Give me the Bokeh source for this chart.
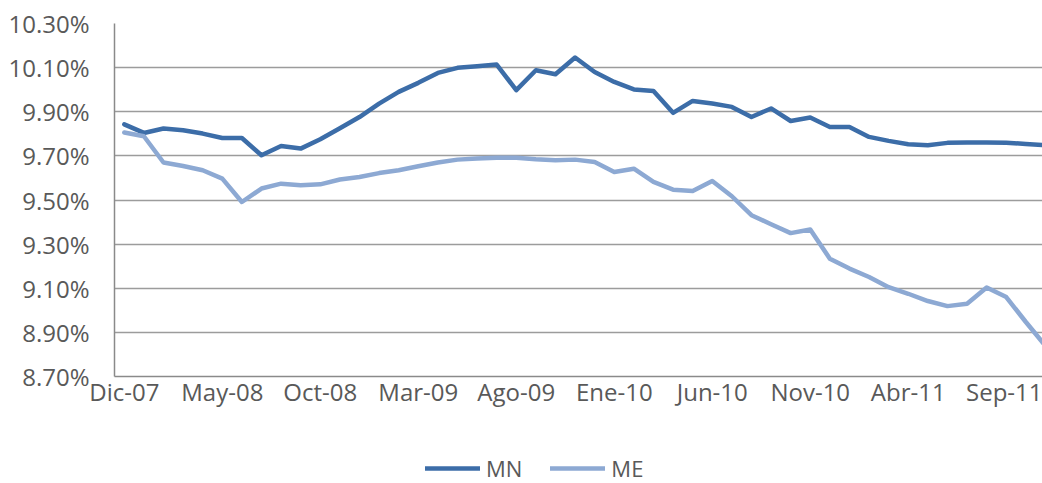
from bokeh.plotting import figure
from bokeh.layouts import column
from bokeh.models import FixedTicker, PrintfTickFormatter, Legend, LegendItem
from bokeh.embed import file_html
from bokeh.resources import INLINE

months = ["Dic-07", "Ene-08", "Feb-08", "Mar-08", "Abr-08", "May-08", "Jun-08", "Jul-08",
          "Ago-08", "Sep-08", "Oct-08", "Nov-08", "Dic-08", "Ene-09", "Feb-09", "Mar-09",
          "Abr-09", "May-09", "Jun-09", "Jul-09", "Ago-09", "Sep-09", "Oct-09", "Nov-09",
          "Dic-09", "Ene-10", "Feb-10", "Mar-10", "Abr-10", "May-10", "Jun-10", "Jul-10",
          "Ago-10", "Sep-10", "Oct-10", "Nov-10", "Dic-10", "Ene-11", "Feb-11", "Mar-11",
          "Abr-11", "May-11", "Jun-11", "Jul-11", "Ago-11", "Sep-11", "Oct-11", "Nov-11"]

mn = [9.843, 9.804, 9.824, 9.816, 9.801, 9.781, 9.781, 9.703, 9.745, 9.733,
      9.775, 9.825, 9.876, 9.937, 9.990, 10.031, 10.076, 10.099, 10.106, 10.114,
      9.998, 10.088, 10.070, 10.146, 10.080, 10.035, 10.001, 9.994, 9.895, 9.949,
      9.937, 9.922, 9.876, 9.915, 9.858, 9.874, 9.831, 9.831, 9.786, 9.768,
      9.753, 9.748, 9.759, 9.761, 9.761, 9.760, 9.754, 9.748]

me = [9.806, 9.789, 9.670, 9.654, 9.635, 9.597, 9.491, 9.552, 9.574, 9.567,
      9.571, 9.593, 9.604, 9.622, 9.635, 9.653, 9.670, 9.683, 9.688, 9.692,
      9.692, 9.685, 9.680, 9.683, 9.672, 9.627, 9.642, 9.582, 9.547, 9.541,
      9.586, 9.517, 9.431, 9.390, 9.350, 9.366, 9.234, 9.189, 9.151, 9.105,
      9.075, 9.042, 9.019, 9.030, 9.103, 9.060, 8.947, 8.839]

series_names = ["MN", "ME"]
y_ticks = [8.70, 8.90, 9.10, 9.30, 9.50, 9.70, 9.90, 10.10, 10.30]
x_tick_idx = list(range(0, len(months), 5))

FONT = "Open Sans"
TXT = "#595959"
C_MN = "#3C6DA8"
C_ME = "#8DA9D3"

x = list(range(len(months)))

p = figure(width=1042, height=420, x_range=(-0.5, 46.85), y_range=(8.70, 10.30),
           output_backend="svg", toolbar_location=None,
           min_border_left=114, min_border_right=0, min_border_top=23, min_border_bottom=44)
p.outline_line_color = None
p.background_fill_color = "white"
p.border_fill_color = "white"

p.line(x, mn, line_color=C_MN, line_width=4.5, line_join="round", line_cap="round")
p.line(x, me, line_color=C_ME, line_width=4.5, line_join="round", line_cap="round")

p.xgrid.grid_line_color = None
p.ygrid.grid_line_color = "#9c9c9c"
p.ygrid.grid_line_width = 1.5
p.ygrid.ticker = FixedTicker(ticks=y_ticks)

p.yaxis.ticker = FixedTicker(ticks=y_ticks)
p.yaxis.formatter = PrintfTickFormatter(format="%.2f%%")
p.yaxis.major_label_text_font = FONT
p.yaxis.major_label_text_font_size = "24px"
p.yaxis.major_label_text_color = TXT
p.yaxis.major_label_standoff = 25
p.yaxis.major_tick_out = 0
p.yaxis.major_tick_in = 0
p.yaxis.minor_tick_out = 0
p.yaxis.minor_tick_in = 0
p.yaxis.major_tick_line_color = None
p.yaxis.minor_tick_line_color = None
p.yaxis.axis_line_color = "#8a8a8a"
p.yaxis.axis_line_width = 1.5

p.xaxis.ticker = FixedTicker(ticks=x_tick_idx)
p.xaxis.major_label_overrides = {i: months[i] for i in x_tick_idx}
p.xaxis.major_label_text_font = FONT
p.xaxis.major_label_text_font_size = "24px"
p.xaxis.major_label_text_color = TXT
p.xaxis.major_label_standoff = -2
p.xaxis.major_tick_out = 0
p.xaxis.major_tick_in = 0
p.xaxis.minor_tick_out = 0
p.xaxis.minor_tick_in = 0
p.xaxis.major_tick_line_color = None
p.xaxis.minor_tick_line_color = None
p.xaxis.axis_line_color = "#8a8a8a"
p.xaxis.axis_line_width = 1.5

# legend strip below the chart (its frame is aligned with the chart's frame)
pl = figure(width=1042, height=63, x_range=(0, 1), y_range=(0, 1),
            output_backend="svg", toolbar_location=None,
            x_axis_type=None, y_axis_type=None,
            min_border_left=0, min_border_right=0, min_border_top=0, min_border_bottom=0)
pl.outline_line_color = None
pl.xgrid.grid_line_color = None
pl.ygrid.grid_line_color = None
pl.background_fill_color = "white"
pl.border_fill_color = "white"
# proxy renderers for the legend keys (outside the strip's visible range)
d_mn = pl.line([-3, -2], [-3, -3], line_color=C_MN, line_width=4.5, line_cap="round")
d_me = pl.line([-3, -2], [-3, -3], line_color=C_ME, line_width=4.5, line_cap="round")

legend = Legend(items=[LegendItem(label=series_names[0], renderers=[d_mn]),
                       LegendItem(label=series_names[1], renderers=[d_me])],
                orientation="horizontal", location=(311, 0),
                margin=0, padding=0, spacing=28, label_standoff=6,
                glyph_width=55, glyph_height=20, label_height=20,
                label_text_font=FONT, label_text_font_size="22px",
                label_text_color=TXT, border_line_color=None,
                background_fill_alpha=0)
pl.add_layout(legend, "center")

layout = column(p, pl, spacing=0)
open("out.html", "w").write(file_html(layout, INLINE))
